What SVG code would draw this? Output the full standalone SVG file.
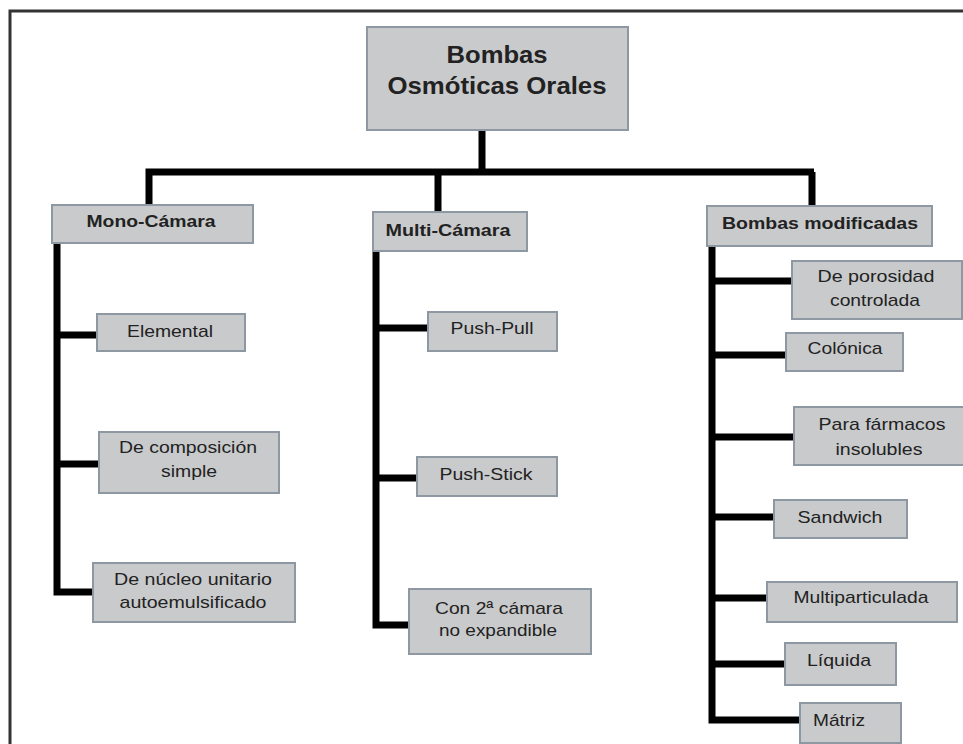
<svg xmlns="http://www.w3.org/2000/svg" width="963" height="744" viewBox="0 0 963 744">
<style>
.bx{fill:#c9cacc;stroke:#8d98a3;stroke-width:2}
.t{font-family:"Liberation Sans",Arial,sans-serif;font-size:17px;fill:#222;text-anchor:middle}
.h{font-weight:bold}
.r{font-family:"Liberation Sans",Arial,sans-serif;font-size:24px;font-weight:bold;fill:#222;text-anchor:middle}
.c{fill:none;stroke:#000;stroke-width:7;stroke-linejoin:miter}
</style>
<rect width="963" height="744" fill="#fff"/>
<path d="M10,744 V11 H963" fill="none" stroke="#333" stroke-width="3"/>
<g id="connectors">
<path class="c" d="M482,130 V172"/>
<path class="c" d="M149,205 V172 H814 M438,172 V212 M812,172 V206" stroke-width="8"/>
<path class="c" d="M57,243 V592 H93 M57,335 H97 M57,464 H99"/>
<path class="c" d="M376,250 V625 H409 M376,328 H428 M376,478 H417"/>
<path class="c" d="M712,246 V720 H800 M712,281 H792 M712,355 H786 M712,437 H794 M712,517 H774 M712,598 H767 M712,664 H785"/>
</g>
<g id="root">
<rect class="bx" x="367" y="27" width="261" height="103"/>
<text class="r" x="497" y="63" textLength="101" lengthAdjust="spacingAndGlyphs">Bombas</text>
<text class="r" x="497" y="94" textLength="219" lengthAdjust="spacingAndGlyphs">Osmóticas Orales</text>
</g>
<g id="mono">
<rect class="bx" x="52" y="205" width="201" height="38"/>
<text class="t h" x="151" y="227" textLength="129" lengthAdjust="spacingAndGlyphs">Mono-Cámara</text>
</g>
<g id="multi">
<rect class="bx" x="373" y="212" width="154" height="39"/>
<text class="t h" x="448" y="236" textLength="125" lengthAdjust="spacingAndGlyphs">Multi-Cámara</text>
</g>
<g id="modificadas">
<rect class="bx" x="707" y="206" width="225" height="40"/>
<text class="t h" x="820" y="229" textLength="196" lengthAdjust="spacingAndGlyphs">Bombas modificadas</text>
</g>
<g id="elemental">
<rect class="bx" x="97" y="314" width="148" height="37"/>
<text class="t" x="170" y="337" textLength="86" lengthAdjust="spacingAndGlyphs">Elemental</text>
</g>
<g id="composicion">
<rect class="bx" x="99" y="432" width="180" height="61"/>
<text class="t" x="188" y="453" textLength="138" lengthAdjust="spacingAndGlyphs">De composición</text>
<text class="t" x="189" y="477" textLength="56" lengthAdjust="spacingAndGlyphs">simple</text>
</g>
<g id="nucleo">
<rect class="bx" x="93" y="563" width="202" height="59"/>
<text class="t" x="193" y="585" textLength="158" lengthAdjust="spacingAndGlyphs">De núcleo unitario</text>
<text class="t" x="193" y="608" textLength="147" lengthAdjust="spacingAndGlyphs">autoemulsificado</text>
</g>
<g id="pushpull">
<rect class="bx" x="428" y="312" width="129" height="39"/>
<text class="t" x="492" y="334" textLength="83" lengthAdjust="spacingAndGlyphs">Push-Pull</text>
</g>
<g id="pushstick">
<rect class="bx" x="417" y="457" width="140" height="39"/>
<text class="t" x="486" y="480" textLength="93" lengthAdjust="spacingAndGlyphs">Push-Stick</text>
</g>
<g id="camara2">
<rect class="bx" x="409" y="589" width="182" height="65"/>
<text class="t" x="499" y="614" textLength="128" lengthAdjust="spacingAndGlyphs">Con 2ª cámara</text>
<text class="t" x="498" y="636" textLength="118" lengthAdjust="spacingAndGlyphs">no expandible</text>
</g>
<g id="porosidad">
<rect class="bx" x="792" y="261" width="170" height="58"/>
<text class="t" x="876" y="282" textLength="117" lengthAdjust="spacingAndGlyphs">De porosidad</text>
<text class="t" x="875" y="306" textLength="90" lengthAdjust="spacingAndGlyphs">controlada</text>
</g>
<g id="colonica">
<rect class="bx" x="786" y="333" width="117" height="38"/>
<text class="t" x="845" y="354" textLength="75" lengthAdjust="spacingAndGlyphs">Colónica</text>
</g>
<g id="farmacos">
<rect class="bx" x="794" y="407" width="170" height="58"/>
<text class="t" x="882" y="430" textLength="127" lengthAdjust="spacingAndGlyphs">Para fármacos</text>
<text class="t" x="879" y="455" textLength="87" lengthAdjust="spacingAndGlyphs">insolubles</text>
</g>
<g id="sandwich">
<rect class="bx" x="774" y="500" width="133" height="38"/>
<text class="t" x="840" y="523" textLength="85" lengthAdjust="spacingAndGlyphs">Sandwich</text>
</g>
<g id="multiparticulada">
<rect class="bx" x="767" y="582" width="190" height="40"/>
<text class="t" x="861" y="603" textLength="135" lengthAdjust="spacingAndGlyphs">Multiparticulada</text>
</g>
<g id="liquida">
<rect class="bx" x="785" y="643" width="111" height="42"/>
<text class="t" x="839" y="666" textLength="64" lengthAdjust="spacingAndGlyphs">Líquida</text>
</g>
<g id="matriz">
<rect class="bx" x="800" y="703" width="101" height="40"/>
<text class="t" x="839" y="726" textLength="52" lengthAdjust="spacingAndGlyphs">Mátriz</text>
</g>
</svg>
